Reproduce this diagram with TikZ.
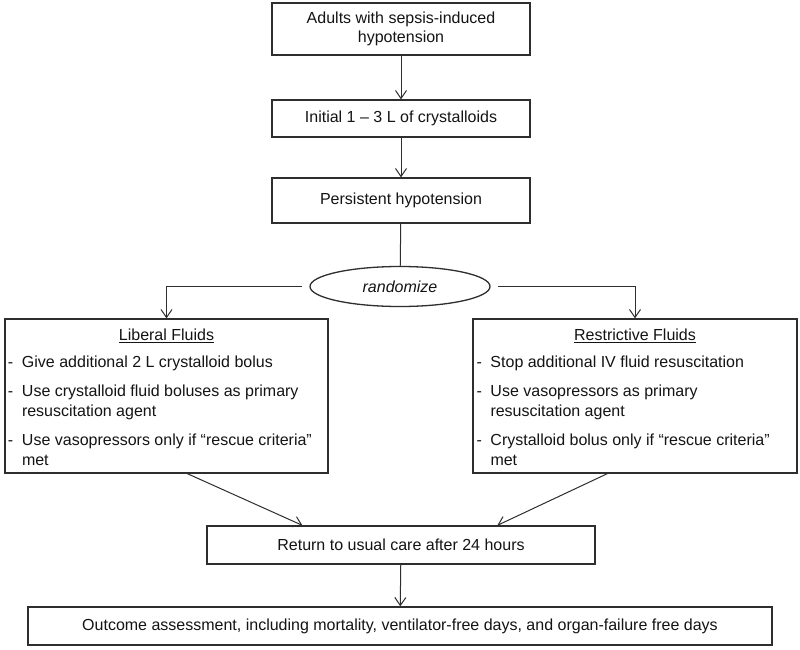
\documentclass[tikz,border=0pt]{standalone}
\usepackage{fontspec}
\setmainfont{Liberation Sans}
\usetikzlibrary{arrows.meta,shapes.geometric,calc}
\definecolor{ink}{HTML}{141414}
\definecolor{edge}{HTML}{2E2E2E}
\tikzset{
  box/.style={draw=edge, line width=1.3pt, rectangle, inner sep=0pt, align=center, text=ink,
    font=\fontsize{16}{19}\selectfont},
  conn/.style={draw=edge, line width=1pt},
  arr/.style={conn, -{Straight Barb[length=8pt,width=11pt,line width=1pt]}},
}
\newcommand{\armtab}[6]{%
  \renewcommand{\arraystretch}{1}%
  \vbox{\kern6pt\hbox{\begin{tabular}{@{}p{14pt}@{}p{303pt}@{}}
  \multicolumn{2}{@{}c@{}}{\underline{#1}}\\[6.5pt]
  - & \mbox{#2}\\[9.5pt]
  - & \mbox{#3}\\
    & \mbox{#4}\\[8.5pt]
  - & \mbox{#5}\\
    & \mbox{#6}
  \end{tabular}}}}
\begin{document}
\begin{tikzpicture}[x=1pt,y=-1pt]
\useasboundingbox[fill=white] (0,0) rectangle (800,650);

\node[box, minimum width=258pt, minimum height=52pt] (b1) at (401,29)
  {Adults with sepsis-induced\\hypotension};
\node[box, minimum width=258pt, minimum height=37pt] (b2) at (401,118.5)
  {Initial 1 – 3 L of crystalloids};
\node[box, minimum width=258pt, minimum height=45pt] (b3) at (401,200.5)
  {Persistent hypotension};
\node[draw=edge, line width=1.3pt, ellipse, minimum width=180pt, minimum height=40pt, inner sep=0pt,
  text=ink, font=\fontsize{16}{19}\selectfont\itshape] (rnd) at (400,286.5) {randomize};

\node[box, minimum width=323pt, minimum height=154pt, font=\fontsize{16}{20}\selectfont] (lib) at (166.5,396)
  {\armtab{Liberal Fluids}{Give additional 2 L crystalloid bolus}
   {Use crystalloid fluid boluses as primary}{resuscitation agent}
   {Use vasopressors only if “rescue criteria”}{met}};
\node[box, minimum width=324pt, minimum height=154pt, font=\fontsize{16}{20}\selectfont] (res) at (635,396)
  {\armtab{Restrictive Fluids}{Stop additional IV fluid resuscitation}
   {Use vasopressors as primary}{resuscitation agent}
   {Crystalloid bolus only if “rescue criteria”}{met}};

\node[box, minimum width=388pt, minimum height=38pt] (ret) at (401,545)
  {Return to usual care after 24 hours};
\node[box, minimum width=744pt, minimum height=38pt] (out) at (400,626)
  {Outcome assessment, including mortality, ventilator-free days, and organ-failure free days};

\draw[arr] (b1) -- (b2);
\draw[arr] (b2) -- (b3);
\draw[conn] (b3) -- (rnd);
\draw[arr] ($(rnd.west)+(-7,0)$) -| (lib.north);
\draw[arr] ($(rnd.east)+(7,0)$) -| (res.north);

\coordinate (ls) at ($(lib.south west)+(183,0)$);
\coordinate (lt) at ($(ret.north west)+(96,0)$);
\coordinate (rs) at ($(res.south west)+(135,0)$);
\coordinate (rt) at ($(ret.north west)+(291,0)$);
\draw[arr] (ls) -- (lt);
\draw[arr] (rs) -- (rt);
\draw[arr] (ret) -- (out);
\end{tikzpicture}
\end{document}
